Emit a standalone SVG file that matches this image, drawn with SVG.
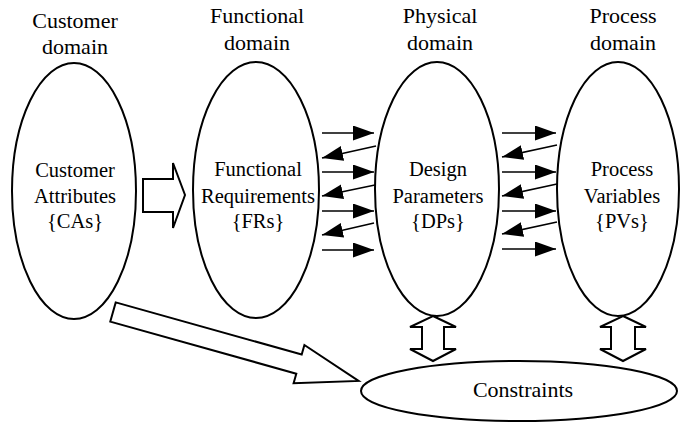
<svg xmlns="http://www.w3.org/2000/svg" width="680" height="424" viewBox="0 0 680 424">
<style>
.dom{fill:#fff;stroke:#000;stroke-width:2}
.t{font-family:'Liberation Serif','Times New Roman','DejaVu Serif',serif;fill:#000;text-anchor:middle}
.title{font-size:22px}
.in{font-size:20.5px}
.ar{stroke:#000;stroke-width:1.6;fill:none;marker-end:url(#ah)}
.hol{fill:#fff;stroke:#000;stroke-width:2;stroke-linejoin:miter}
</style>
<defs>
<marker id="ah" markerUnits="userSpaceOnUse" markerWidth="21" markerHeight="15" refX="21" refY="7.5" orient="auto">
<path d="M0,0 L21,7.5 L0,15 z" fill="#000"/>
</marker>
</defs>
<rect width="680" height="424" fill="#fff"/>
<g id="customer" font-family="Liberation Serif, serif">
<text class="t title" x="75" y="28">Customer</text>
<text class="t title" x="75" y="54">domain</text>
<ellipse class="dom" cx="74" cy="191" rx="62" ry="128"/>
<text class="t in" x="75" y="177">Customer</text>
<text class="t in" x="75" y="203">Attributes</text>
<text class="t in" x="75" y="228">{CAs}</text>
</g>
<g id="functional" font-family="Liberation Serif, serif">
<text class="t title" x="257" y="23">Functional</text>
<text class="t title" x="257" y="50">domain</text>
<ellipse class="dom" cx="256" cy="190" rx="63" ry="128"/>
<text class="t in" x="258" y="176">Functional</text>
<text class="t in" x="258" y="203">Requirements</text>
<text class="t in" x="258" y="228">{FRs}</text>
</g>
<g id="physical" font-family="Liberation Serif, serif">
<text class="t title" x="440" y="23">Physical</text>
<text class="t title" x="440" y="50">domain</text>
<ellipse class="dom" cx="437" cy="189" rx="62" ry="127"/>
<text class="t in" x="438" y="176">Design</text>
<text class="t in" x="438" y="203">Parameters</text>
<text class="t in" x="438" y="228">{DPs}</text>
</g>
<g id="process" font-family="Liberation Serif, serif">
<text class="t title" x="623" y="23">Process</text>
<text class="t title" x="623" y="50">domain</text>
<ellipse class="dom" cx="618" cy="189" rx="61" ry="127"/>
<text class="t in" x="622" y="176">Process</text>
<text class="t in" x="622" y="203">Variables</text>
<text class="t in" x="622" y="228">{PVs}</text>
</g>
<g id="constraints" font-family="Liberation Serif, serif">
<ellipse class="dom" cx="519" cy="391" rx="158" ry="30"/>
<text class="t" style="font-size:22px" x="523" y="397">Constraints</text>
</g>
<g id="connectors">
<polygon class="hol" points="143,179 173,179 173,163 185,195 173,228 173,212 143,212"/>
<polygon class="hol" points="115.7,302.4 301.7,354.5 304.4,345 358.6,380.9 293.6,383.3 296.3,373.7 110.3,321.6"/>
<polygon class="hol" points="433,316 456,327 444,327 444,349 456,349 433,361 410,349 422,349 422,327 410,327"/>
<polygon class="hol" points="623,316 646,327 635,327 635,349 646,349 623,361 600,349 611,349 611,327 600,327"/>
<line class="ar" x1="322" y1="133" x2="374" y2="133"/>
<line class="ar" x1="322" y1="172" x2="374" y2="172"/>
<line class="ar" x1="322" y1="211" x2="374" y2="211"/>
<line class="ar" x1="322" y1="250" x2="374" y2="250"/>
<line class="ar" x1="376" y1="146" x2="322" y2="158"/>
<line class="ar" x1="375" y1="185" x2="322" y2="196"/>
<line class="ar" x1="374" y1="223" x2="322" y2="235"/>
<line class="ar" x1="502" y1="133" x2="556" y2="133"/>
<line class="ar" x1="502" y1="172" x2="556" y2="172"/>
<line class="ar" x1="502" y1="211" x2="556" y2="211"/>
<line class="ar" x1="502" y1="249" x2="556" y2="249"/>
<line class="ar" x1="557" y1="145" x2="502" y2="157"/>
<line class="ar" x1="557" y1="184" x2="502" y2="196"/>
<line class="ar" x1="557" y1="222" x2="502" y2="234"/>
</g>
</svg>
